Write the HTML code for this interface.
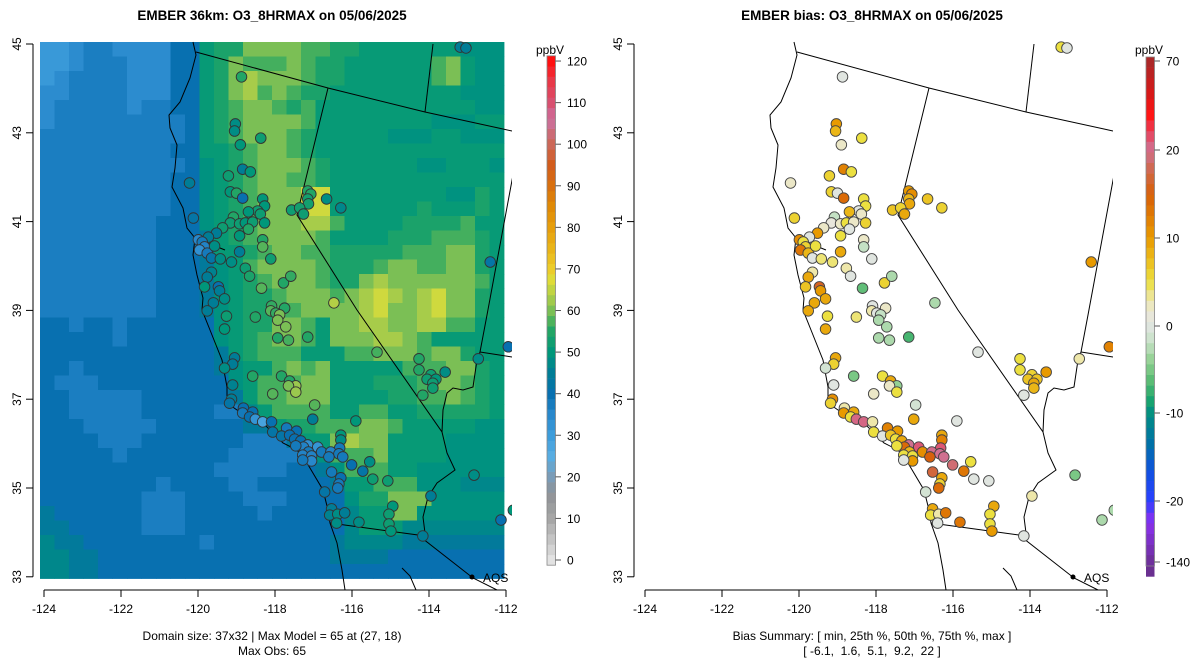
<!DOCTYPE html>
<html><head><meta charset="utf-8"><style>
body{margin:0;background:#fff;}
svg{display:block;font-family:"Liberation Sans",sans-serif;}
</style></head><body>
<svg id="fig" width="1200" height="672" viewBox="0 0 1200 672">
<defs>
<clipPath id="clipL"><rect x="33" y="33" width="479" height="557"/></clipPath>
<clipPath id="clipR"><rect x="634" y="33" width="479" height="557"/></clipPath>
<g id="basemap" fill="none" stroke="#000" stroke-width="1">
<path d="M193,42 L196,55 L190,78 L180,102 L169,115 L170,128 L177,145 L175,168 L172,187 L183,208 L187,228 L195,238 L193,255 L197,275 L203,298 L202,310 L210,330 L222,360 L227,387 L227,403 L237,410 L263,423 L283,443 L297,450 L307,463 L323,490 L328,510 L330,523 L337,543 L342,570 L345,590"/>
<path d="M195,238 L207,243 L215,246 L225,250 M203,244 L206,250"/>
<path d="M196,52 L328,88 L425,112 L503,129 L512,131"/>
<path d="M425,112 L433,44"/>
<path d="M328,88 L297,215 L357,310 L442,432 L447,453 L455,470 L437,483 L428,497 L423,517 L425,533 L418,535"/>
<path d="M330,523 L418,535 L473,578 L497,590"/>
<path d="M513,175 L487,315 L480,352 L477,360 L473,387 L463,390 L453,388 L447,393 L443,410 L442,432"/>
<path d="M480,352 L512,357"/>
<path d="M402,568 L410,576 L416,590"/>
</g>
</defs>
<g id="left">
<g id="heat" clip-path="url(#clipL)"></g>
<use href="#basemap" clip-path="url(#clipL)"/>
<g id="ptsL" clip-path="url(#clipL)"></g>
</g>
<g id="right">
<g clip-path="url(#clipR)"><use href="#basemap" transform="translate(601,0)"/></g>
<g id="ptsR" clip-path="url(#clipR)"></g>
</g>
<g id="axes"></g>
<g id="cbL"></g>
<g id="cbR"></g>
<text x="272" y="20" text-anchor="middle" font-size="13.5" font-weight="bold">EMBER 36km: O3_8HRMAX on 05/06/2025</text>
<text x="872" y="20" text-anchor="middle" font-size="13.5" font-weight="bold">EMBER bias: O3_8HRMAX on 05/06/2025</text>
<text x="272" y="640" text-anchor="middle" font-size="12">Domain size: 37x32 | Max Model = 65 at (27, 18)</text>
<text x="272" y="655" text-anchor="middle" font-size="12">Max Obs: 65</text>
<text x="872" y="640" text-anchor="middle" font-size="12">Bias Summary: [ min, 25th %, 50th %, 75th %, max ]</text>
<text x="872" y="655" text-anchor="middle" font-size="12" xml:space="preserve">[ -6.1,  1.6,  5.1,  9.2,  22 ]</text>
<g><circle cx="472" cy="577" r="2.5"/><text x="483" y="582" font-size="12">AQS</text></g>
<g><circle cx="1073" cy="577" r="2.5"/><text x="1084" y="582" font-size="12">AQS</text></g>
</svg>
<script>
const gridRows=[
"aabccbbbbddhiikkkkjjiihhhhhhhggg","aabcccbbbddhikjjjkjiihhhhhhjkhgg","abccccbbbddhiklkkkjiihhhhhhjkhgg",
"bbccccbbbddhikljkjiihhhhhhhhhggg","bcccccbccddhijkkjijhhhhhhhhhhhgg","bcccccccccdhijkkkkjhhhhhhhhggghh",
"ccccccccccdhijkkkjihhhhhggghhggg","cccccccccddhhijkkjihhhhhhhhhhhhh","ccccccccccdghijkkkjihhhhhhgghhhg",
"cccccccccddghijkkjjihhhhhhhhhhhh","cccccccccddghijkkkmmhhhhhhhhggih","cccccccccddghijkkkmmhhhhhhihhhih",
"ccccccccdddghijkkklljhhhhiiiijhh","ccccccccdddehijkkkkjhhhhiiijjjih","ccccccccdddehhijkkjjiiiiijjjkkih",
"ccccccccdddeghjkkkkjiiijkkjjkkih","ccccccccdddeghijkkkjiiklkkkkkkjh","ccccccccdddeghiijkkkjklmlklmkkih",
"ccccccccdddeghiijjkkkklmkklmkkih","ddcddcdddddd"+"ghiikkjhkkllkklljjhh".slice(0,20),
"dddddcddddddghijkkjhkkkllkjhhh".padEnd(32,"h"),
"dddddddddddd"+"ehijjjhhhjjkkkjkkihh".slice(0,20),
"ddcddddddddd"+"eghhjkjkhhhhhjjjkkih",
"dcccdddddddd"+"dghjjjkkhhhiiijkkjih",
"ddcccccdddd"+"ddehjjkkkhhhhiijjkjih",
"ddcccccddddd"+"ccfhjjjjhhjjhhiiiiih",
"dddcccccdddd"+"ddeehiijjjkkjhhhhhgg",
"ddddcccdddd"+"dddccc"+"ehhklkkhhhhgggg",
"dddddcddddd"+"ddcccc"+"cegjjjkhhhhgggg",
"ddddddddddd"+"dcccccdd"+"egjjjhhgggggg",
"ddddddddcddddccddddd"+"ehhjjjgggfff",
"dddddddcccddddcccddd"+"dgiikkkggggg",
"eddddddcccdddddcdddd"+"dfhhkkgggggg",
"eedddddcccddddddddddd"+"fhhhfffffff",
"feeddddddddcdddddddde"+"ffffeeeeeee",
"ffeedddddddddddddddde"+"eeedddddddd",
"ffeeddddddddddddddddd"+"ddddddddddd"];
const levelKeys="abcdefghijklm";
const levelVals=[31,34,37,40,44,47,49,51,54,57,60,63,66];

const siteLon=[-118.87,-113.19,-113.04,-119.03,-119.05,-118.37,-118.90,-118.84,-118.64,-119.21,-120.22,-119.16,-119.00,-118.84,-118.32,-118.27,-118.45,-118.69,-118.38,-120.12,-119.08,-119.16,-118.92,-118.77,-118.58,-118.27,-118.69,-119.36,-119.52,-119.73,-119.99,-119.89,-119.83,-119.96,-119.76,-119.57,-118.92,-118.92,-119.65,-119.42,-119.13,-118.32,-118.32,-118.11,-118.77,-118.66,-119.65,-119.76,-119.83,-119.47,-119.44,-119.31,-119.60,-119.76,-119.26,-119.31,-118.51,-118.35,-117.78,-117.59,-118.09,-117.75,-118.11,-117.98,-117.88,-117.93,-117.72,-117.93,-117.65,-117.15,-116.47,-117.15,-117.07,-117.15,-117.13,-117.57,-117.36,-117.26,-116.66,-116.29,-112.41,-111.94,-119.05,-119.10,-119.31,-118.58,-119.10,-117.83,-117.62,-117.46,-117.65,-117.46,-118.06,-119.13,-119.18,-116.97,-115.35,-114.26,-114.26,-113.58,-113.95,-114.05,-113.82,-113.90,-113.90,-114.16,-112.72,-118.82,-118.84,-118.58,-118.66,-118.51,-118.32,-118.09,-117.02,-115.90,-117.70,-117.44,-118.06,-117.83,-117.62,-117.49,-117.33,-116.29,-116.29,-117.15,-117.26,-117.46,-116.89,-116.79,-116.32,-116.55,-116.34,-116.24,-116.60,-117.13,-117.28,-117.05,-117.05,-117.28,-116.01,-115.72,-115.54,-116.53,-116.29,-116.34,-116.37,-115.46,-115.07,-116.71,-112.83,-113.95,-114.94,-115.04,-116.53,-116.58,-116.37,-116.19,-116.40,-115.82,-115.04,-114.99,-114.16,-112.13,-111.81];
const siteLat=[44.26,44.93,44.91,43.20,43.04,42.88,42.73,42.18,42.12,42.03,41.87,41.67,41.64,41.53,41.51,41.35,41.24,41.22,41.17,41.08,41.10,40.97,40.95,40.97,40.99,40.97,40.83,40.86,40.74,40.65,40.59,40.54,40.43,40.36,40.29,40.45,40.68,40.32,40.18,40.16,40.09,40.59,40.43,40.16,39.95,39.77,39.86,39.75,39.53,39.53,39.44,39.26,39.17,38.99,38.87,38.58,38.85,39.50,39.62,39.77,39.10,39.05,38.99,38.94,38.90,38.78,38.63,38.38,38.33,38.40,39.17,41.69,41.62,41.51,41.40,41.26,41.31,41.17,41.51,41.31,40.09,38.18,37.93,37.79,37.70,37.52,37.32,37.52,37.41,37.30,37.30,37.16,37.12,37.00,36.91,36.87,38.06,37.91,37.66,37.61,37.55,37.45,37.45,37.36,37.25,37.09,37.91,36.80,36.69,36.71,36.60,36.55,36.49,36.49,36.55,36.51,36.35,36.28,36.26,36.17,36.19,36.10,36.06,36.19,36.08,35.97,35.92,35.95,35.92,35.81,35.90,35.81,35.77,35.70,35.70,35.81,35.74,35.72,35.61,35.63,35.52,35.38,35.59,35.36,35.23,35.09,35.00,35.20,35.16,34.91,35.29,34.82,34.59,34.41,34.53,34.39,34.41,34.44,34.21,34.23,34.19,34.03,33.92,34.28,34.50];
const obsVals=[55,45,45,48,48,52,50,45,50,52,45,50,55,40,50,50,52,50,52,42,55,52,52,50,52,50,55,52,45,45,35,38,36,33,38,48,50,45,42,48,48,55,58,52,52,54,46,45,50,40,45,48,45,45,52,50,55,58,55,56,56,55,58,56,60,60,60,55,57,55,64,55,55,53,53,52,53,52,48,47,42,40,45,45,48,55,46,55,55,62,60,62,58,45,42,58,57,55,55,48,52,52,50,52,52,55,48,40,38,40,40,32,28,40,45,50,38,40,42,42,40,40,40,50,48,33,36,38,32,38,38,36,38,38,38,38,36,36,35,38,40,42,48,38,40,38,38,52,52,42,48,45,50,52,45,46,48,45,48,48,52,50,45,40,50];
const biasVals=[0,5,0,10,8,5,2,12,5,6,2,6,0,14,5,5,0,8,2,6,-2,1,2,5,2,6,0,2,10,0,11,5,6,13,8,5,5,9,0,4,4,2,-2,0,3,0,3,9,7,16,10,9,9,9,5,9,4,-6,6,-3,0,2,3,0,-2,-3,-3,-3,-3,-7,-3,10,11,8,9,7,6,9,7,6,10,12,9,6,-1,-5,0,5,9,-4,2,5,2,11,6,-1,0,5,5,10,6,7,7,9,8,0,3,3,10,9,5,22,22,3,9,0,12,10,5,0,7,5,9,9,12,20,14,5,25,11,25,21,20,20,15,8,5,5,10,0,19,13,5,17,9,6,14,0,0,-1,-5,3,9,5,9,5,3,13,0,13,5,10,0,-3,-3];

const xTicks=[-124,-122,-120,-118,-116,-114,-112];
const yTicks=[33,35,37,39,41,43,45];
const cbLTicks=[0,10,20,30,40,50,60,70,80,90,100,110,120];
const cbRTicks=[70,20,10,0,-10,-20,-140];

const NS="http://www.w3.org/2000/svg";
function mk(tag,attrs,parent){const e=document.createElementNS(NS,tag);for(const k in attrs)e.setAttribute(k,attrs[k]);parent.appendChild(e);return e;}
const px=lon=>44+(lon+124)*38.5;
const py=lat=>44+(45-lat)*44.4;
const hx=h=>[parseInt(h.slice(1,3),16),parseInt(h.slice(3,5),16),parseInt(h.slice(5,7),16)];
function interp(stops,v){
  if(v<=stops[0][0])return stops[0][1];
  for(let i=1;i<stops.length;i++){if(v<=stops[i][0]){const [a,ca]=stops[i-1],[b,cb]=stops[i];const t=(v-a)/(b-a);const A=hx(ca),B=hx(cb);return "rgb("+A.map((x,j)=>Math.round(x+(B[j]-x)*t)).join(",")+")";}}
  return stops[stops.length-1][1];
}
const modelStops=[[0,"#e2e2e2"],[10,"#a6a6a6"],[16,"#8f9296"],[20,"#7a9cb8"],[25,"#58ade2"],[30,"#3d9ddb"],[35,"#2888cc"],[40,"#0870b0"],[45,"#007d96"],[50,"#00977a"],[55,"#22a566"],[58,"#55b45a"],[61,"#8ec552"],[64,"#b4cf46"],[67,"#dcde3a"],[70,"#eccc2a"],[75,"#e9b418"],[80,"#e69e0c"],[85,"#e08a06"],[90,"#d87010"],[95,"#d25c1c"],[100,"#cc6858"],[106,"#cc70a0"],[110,"#d85070"],[115,"#e83848"],[120,"#ff1010"]];
const mcol=v=>interp(modelStops,v);
// bias: value -> position -> color
const biasPosV=[70,20,10,0,-10,-20,-140], biasPosY=[61,150,238,326,413,501,562];
function biasY(v){for(let i=1;i<biasPosV.length;i++){if(v>=biasPosV[i]){const t=(v-biasPosV[i-1])/(biasPosV[i]-biasPosV[i-1]);return biasPosY[i-1]+t*(biasPosY[i]-biasPosY[i-1]);}}return 562;}
const biasStops=[[57,"#a52a2a"],[95,"#d81818"],[115,"#ff1414"],[132,"#e8405a"],[150,"#d07090"],[172,"#d06848"],[195,"#d86008"],[238,"#e89a00"],[262,"#ecc020"],[282,"#ece040"],[302,"#eee8b8"],[322,"#e6e6e6"],[342,"#c8e2c8"],[362,"#90d090"],[384,"#50b870"],[404,"#10a070"],[415,"#008c84"],[445,"#0070a8"],[472,"#1050e0"],[501,"#2a40ff"],[522,"#8a30f0"],[566,"#6a3090"]];
const bcol=v=>interp(biasStops,biasY(v));

// heatmap
const heat=document.getElementById('heat');
const cw=14.5;
gridRows.forEach((row,r)=>{for(let c=0;c<32;c++){const ch=row[c]||"d";const v=levelVals[levelKeys.indexOf(ch)];
  const rc=mk('rect',{x:40+c*cw,y:42+r*cw,width:cw+0.4,height:cw+0.4,fill:mcol(v)},heat);
  
  }});

// points
const pL=document.getElementById('ptsL'),pR=document.getElementById('ptsR');
for(let i=0;i<siteLon.length;i++){
  const x=px(siteLon[i]),y=py(siteLat[i]);
  const a=mk('circle',{cx:x,cy:y,r:5.3,fill:mcol(obsVals[i]),stroke:"#333",'stroke-width':0.9},pL);
  
  
  const b=mk('circle',{cx:x+601,cy:y,r:5.3,fill:bcol(biasVals[i]),stroke:"#444",'stroke-width':0.9},pR);
  
  
}

// axes
const ax=document.getElementById('axes');
[0,601].forEach(off=>{
  const box=mk('rect',{x:33+off,y:33,width:479,height:557,fill:"none",stroke:"#000",'stroke-width':0},ax);
  
  
  xTicks.forEach(t=>{const x=px(t)+off;
    mk('line',{x1:x,x2:x,y1:590,y2:597,stroke:"#000"},ax);
    const tx=mk('text',{x:x,y:613,'text-anchor':'middle','font-size':12},ax);tx.textContent=t;
    
    });
  yTicks.forEach(t=>{const y=py(t);
    mk('line',{x1:33+off,x2:26+off,y1:y,y2:y,stroke:"#000"},ax);
    const tx=mk('text',{x:0,y:0,'text-anchor':'middle','font-size':12,transform:`translate(${21+off},${y}) rotate(-90)`},ax);tx.textContent=t;
    
    });
  mk('line',{x1:33+off,x2:33+off,y1:py(45),y2:py(33),stroke:"#000"},ax);
  mk('line',{x1:px(-124)+off,x2:px(-112)+off,y1:590,y2:590,stroke:"#000"},ax);
});

// colorbars
const cL=document.getElementById('cbL');
const yL=v=>560-v*4.158;
for(let v=-1.25;v<121;v+=2.5){mk('rect',{x:547,y:yL(v+2.5),width:8.5,height:2.5*4.158+0.3,fill:mcol(Math.min(120,v+1.25))},cL);}
mk('rect',{x:547,y:yL(121.25),width:8.5,height:yL(-1.25)-yL(121.25),fill:"none",stroke:"#888",'stroke-width':0.8},cL);
cbLTicks.forEach(t=>{mk('line',{x1:555.5,x2:561,y1:yL(t),y2:yL(t),stroke:"#555"},cL);
  const tx=mk('text',{x:567,y:yL(t)+4.5,'font-size':12},cL);tx.textContent=t;
  
  });
mk('text',{x:536,y:54,'font-size':12},cL).textContent="ppbV";
const cR=document.getElementById('cbR');
for(let y=57;y<566;y+=10.6){mk('rect',{x:1146,y:y,width:8.5,height:10.9,fill:interp(biasStops,y+5.3)},cR);}
mk('rect',{x:1146,y:57,width:8.5,height:509,fill:"none",stroke:"#888",'stroke-width':0.8},cR);
cbRTicks.forEach(t=>{const y=biasY(t);mk('line',{x1:1154.5,x2:1160,y1:y,y2:y,stroke:"#555"},cR);
  const tx=mk('text',{x:1166,y:y+4.5,'font-size':12},cR);tx.textContent=t;
  
  });
mk('text',{x:1135,y:54,'font-size':12},cR).textContent="ppbV";
</script>
</body></html>
